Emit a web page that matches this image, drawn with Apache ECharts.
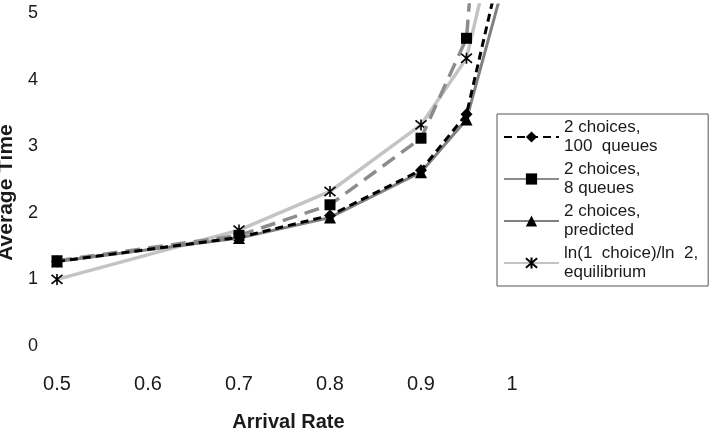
<!DOCTYPE html>
<html><head><meta charset="utf-8">
<script src="https://cdn.jsdelivr.net/npm/echarts@6/dist/echarts.min.js"></script>
<style>html,body{margin:0;padding:0;background:#fff}#c{width:710px;height:434px}</style>
</head><body><div id="c"></div>
<script>
var arrivalRates = [0.5, 0.7, 0.8, 0.9, 0.95, 0.99];
var q100 = [1.27, 1.63, 1.96, 2.64, 3.48, 5.85];
var q8 = [1.28, 1.66, 2.12, 3.12, 4.62, 11.5];
var predicted = [1.27, 1.62, 1.93, 2.61, 3.40, 5.4];
var lnChoice = [1.0, 1.74, 2.32, 3.32, 4.32, 6.64];
var seriesNames = ["2 choices,\n100  queues", "2 choices,\n8 queues", "2 choices,\npredicted", "ln(1  choice)/ln  2,\nequilibrium"];
var xTicks = [0.5, 0.6, 0.7, 0.8, 0.9, 1];
var yTicks = [0, 1, 2, 3, 4, 5];

function pairs(vals){ return arrivalRates.map(function(x,i){ return [x, vals[i]]; }); }
var FONT = 'Liberation Sans, Arial, sans-serif';
var asterisk = 'path://M0,0L10,10M10,0L0,10M5,-1L5,11';

var chart = echarts.init(document.getElementById('c'), null, {renderer:'canvas'});
chart.setOption({
  animation:false,
  backgroundColor:'#fff',
  grid:{left:57, right:198, top:5, bottom:88, containLabel:false, outerBoundsMode:'none'},
  xAxis:{type:'value', min:xTicks[0], max:xTicks[xTicks.length-1], interval:0.1,
    axisLine:{show:false}, axisTick:{show:false}, splitLine:{show:false},
    axisLabel:{margin:28, fontSize:20, color:'#1a1a1a', fontFamily:FONT},
    name:'Arrival Rate', nameLocation:'middle', nameGap:66,
    nameTextStyle:{fontSize:20, fontWeight:'bold', color:'#1a1a1a', fontFamily:FONT, padding:[0,0,0,8]}},
  yAxis:{type:'value', min:yTicks[0], max:5.12, interval:1,
    axisLine:{show:false}, axisTick:{show:false}, splitLine:{show:false},
    axisLabel:{margin:19, fontSize:18, color:'#1a1a1a', fontFamily:FONT,
      formatter:function(v){ return yTicks.indexOf(v) >= 0 ? String(v) : ''; }},
    name:'Average Time', nameLocation:'middle', nameGap:36,
    nameTextStyle:{fontSize:21, fontWeight:'bold', color:'#1a1a1a', fontFamily:FONT, padding:[0,34,0,0]}},
  legend:{orient:'vertical', left:497, top:114, padding:[4,10,4,6],
    borderColor:'#555', borderWidth:1, itemWidth:55, itemHeight:14, itemGap:4,
    textStyle:{fontSize:17, color:'#1a1a1a', fontFamily:FONT, lineHeight:19, padding:[9.5,0,-9.5,0]},
    data:[
      {name:seriesNames[0]},
      {name:seriesNames[1], lineStyle:{type:'solid'}},
      {name:seriesNames[2]},
      {name:seriesNames[3]}
    ]},
  series:[
    {name:seriesNames[3], type:'line', data:pairs(lnChoice), z:2,
      symbol:asterisk, symbolSize:11,
      lineStyle:{color:'#c4c4c4', width:3.5},
      itemStyle:{color:'rgba(0,0,0,0)', borderColor:'#000', borderWidth:1.6}},
    {name:seriesNames[1], type:'line', data:pairs(q8), z:3,
      symbol:'rect', symbolSize:11,
      lineStyle:{color:'#8c8c8c', width:3.5, type:[15,8]},
      itemStyle:{color:'#000'}},
    {name:seriesNames[2], type:'line', data:pairs(predicted), z:4,
      symbol:'triangle', symbolSize:12,
      lineStyle:{color:'#808080', width:3},
      itemStyle:{color:'#000'}},
    {name:seriesNames[0], type:'line', data:pairs(q100), z:5,
      symbol:'diamond', symbolSize:12,
      lineStyle:{color:'#000', width:3, type:[8,5]},
      itemStyle:{color:'#000'}}
  ]
});
</script></body></html>
